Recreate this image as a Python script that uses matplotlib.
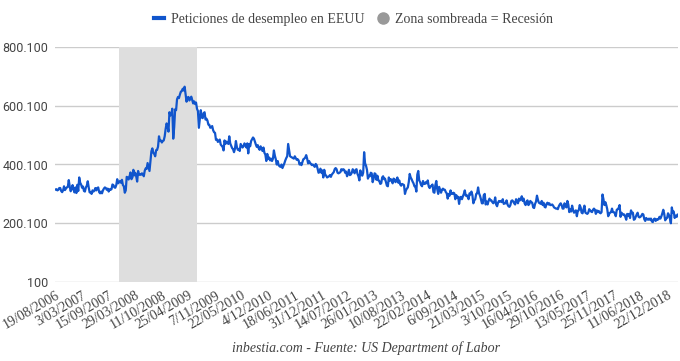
import numpy as np
import matplotlib
matplotlib.use("Agg")
import matplotlib.pyplot as plt
from matplotlib.lines import Line2D

# Peticiones semanales de desempleo (miles), semanas desde 19/08/2006
y2006 = [315, 316, 312, 314, 320, 320, 310, 306, 312, 326, 313, 318, 322, 324, 347, 325, 309, 316, 330, 316]
y2007 = [305, 322, 303, 331, 310, 356, 338, 332, 321, 325, 310, 308, 322, 328, 343, 322, 305,
         306, 300, 312, 308, 311, 320, 312, 320, 322, 306, 302, 308, 302, 312, 318, 322, 320,
         314, 318, 308, 316, 314, 316, 332, 330, 322, 321, 330, 350, 336, 340, 344, 338, 348, 330]
y2008 = [326, 304, 312, 358, 356, 349, 360, 373, 350, 356, 382, 363, 372, 360, 342, 378, 365,
         367, 365, 370, 368, 360, 379, 387, 385, 405, 392, 378, 410, 445, 455, 440, 436, 428, 449,
         450, 461, 496, 480, 482, 475, 480, 482, 496, 521, 540, 531, 512, 578, 567, 570, 590]
y2009 = [488, 527, 588, 585, 622, 630, 626, 638, 648, 650, 658, 652, 665, 640, 614, 628, 630,
         618, 625, 631, 620, 608, 615, 606, 611, 590, 582, 525, 556, 585, 560, 558, 575, 578, 553,
         556, 550, 536, 535, 525, 527, 531, 517, 510, 508, 484, 486, 477, 480, 485, 468, 464]
y2010 = [460, 448, 482, 470, 478, 475, 470, 496, 472, 464, 456, 452, 442, 454, 480, 460, 450,
         452, 446, 470, 464, 458, 462, 472, 466, 458, 472, 438, 470, 462, 480, 486, 492, 488, 478,
         468, 460, 466, 455, 450, 462, 454, 446, 458, 440, 434, 412, 436, 420, 424, 414, 420]
y2011 = [412, 420, 448, 430, 418, 400, 412, 398, 394, 392, 400, 388, 396, 404, 414, 422, 428, 470,
         448, 428, 426, 424, 422, 420, 428, 422, 416, 418, 414, 400, 404, 398, 408, 418, 420,
         424, 432, 420, 404, 412, 406, 402, 398, 400, 396, 392, 402, 398, 386, 372, 374, 386, 372]
y2012 = [380, 356, 382, 366, 362, 356, 358, 360, 364, 358, 366, 370, 374, 384, 388, 384, 372,
         370, 372, 374, 384, 380, 384, 382, 372, 376, 360, 368, 382, 364, 366, 372, 384, 378,
         370, 382, 384, 368, 360, 346, 380, 370, 362, 372, 442, 404, 396, 382, 352, 362, 360, 372]
y2013 = [370, 340, 352, 370, 368, 348, 362, 346, 344, 334, 336, 356, 360, 350, 352, 340, 328,
         326, 356, 344, 350, 348, 336, 352, 350, 340, 344, 356, 338, 346, 332, 328, 334, 332, 330,
         300, 312, 318, 322, 340, 368, 356, 350, 342, 336, 326, 324, 308, 366, 378, 346, 340]
y2014 = [330, 326, 344, 334, 334, 340, 336, 346, 326, 320, 326, 328, 332, 306, 304, 330, 344,
         316, 300, 324, 314, 304, 314, 318, 314, 314, 306, 302, 284, 300, 294, 312, 300, 300, 304,
         302, 282, 296, 288, 290, 266, 288, 290, 282, 292, 300, 312, 294, 296, 290, 282, 302]
y2015 = [298, 308, 296, 268, 278, 282, 300, 302, 322, 302, 294, 282, 268, 268, 296, 300, 264,
         274, 264, 276, 284, 278, 278, 272, 268, 272, 288, 264, 258, 270, 276, 274, 276, 272, 282,
         266, 268, 268, 278, 264, 258, 256, 262, 276, 278, 274, 268, 264, 282, 274, 268, 284]
y2016 = [278, 282, 292, 276, 284, 268, 262, 272, 278, 262, 266, 276, 272, 270, 254, 252, 266, 274,
         294, 280, 270, 268, 266, 276, 262, 270, 256, 254, 266, 270, 264, 268, 262, 262, 264,
         260, 254, 252, 250, 250, 248, 258, 264, 268, 262, 250, 250, 268, 260, 254, 276, 264, 238]
y2017 = [248, 240, 260, 246, 236, 240, 244, 224, 242, 244, 262, 254, 236, 234, 248, 260, 236,
         234, 232, 236, 248, 244, 240, 238, 246, 250, 246, 232, 244, 238, 242, 236, 234, 238,
         298, 282, 262, 272, 262, 248, 224, 232, 236, 238, 250, 238, 238, 234, 224, 246, 248, 252]
y2018 = [262, 222, 236, 232, 228, 230, 222, 212, 232, 226, 232, 218, 244, 234, 236, 212, 214,
         222, 230, 236, 222, 220, 222, 226, 232, 230, 214, 208, 218, 214, 212, 216, 212, 216,
         206, 204, 214, 216, 208, 214, 212, 214, 222, 216, 224, 234, 246, 232, 210, 216, 218, 234]
y2019 = [228, 216, 200, 254, 236, 240, 218, 226, 222, 230, 224]

claims = np.array(y2006 + y2007 + y2008 + y2009 + y2010 + y2011 + y2012 + y2013
                  + y2014 + y2015 + y2016 + y2017 + y2018 + y2019) * 1000

# etiquetas del eje X (una cada 28 semanas)
tick_labels = ["19/08/2006", "3/03/2007", "15/09/2007", "29/03/2008", "11/10/2008",
               "25/04/2009", "7/11/2009", "22/05/2010", "4/12/2010", "18/06/2011",
               "31/12/2011", "14/07/2012", "26/01/2013", "10/08/2013", "22/02/2014",
               "6/09/2014", "21/03/2015", "3/10/2015", "16/04/2016", "29/10/2016",
               "13/05/2017", "25/11/2017", "11/06/2018", "22/12/2018"]
tick_step = 28

# recesion: semana del 1/12/2007 a la del 27/06/2009
rec_start, rec_end = 66.5, 149
y_ticks = [100, 200100, 400100, 600100, 800100]

blue = "#1155cc"
txt = "#444444"

fig = plt.figure(figsize=(6.8, 3.61), dpi=100)
ax = fig.add_axes([55 / 680, 1 - 282 / 361, 623 / 680, 235 / 361])

x = np.arange(len(claims))
ax.axvspan(rec_start, rec_end, color="#dedede", lw=0, zorder=1)
ax.plot(x, claims, color=blue, lw=1.6, zorder=3)

ax.set_ylim(100, 800100)
ax.set_xlim(-0.5, len(claims) - 1.5)
ax.set_yticks(y_ticks)
ax.set_yticklabels([f"{v:,}".replace(",", ".") for v in y_ticks],
                   family="Roboto", fontsize=9, color=txt)
ax.yaxis.grid(True, color="#cccccc", lw=1, zorder=0)
ax.set_axisbelow(True)

ticks = np.arange(len(tick_labels)) * tick_step
ax.set_xticks(ticks)
ax.set_xticklabels(tick_labels, rotation=30, ha="right", rotation_mode="anchor",
                   family="Liberation Serif", fontsize=10, color=txt)
ax.tick_params(length=0, pad=5)
for s in ax.spines.values():
    s.set_visible(False)

handles = [Line2D([], [], color=blue, lw=3),
           Line2D([], [], marker="o", color="#999999", lw=0, markersize=8)]
fig.legend(handles, ["Peticiones de desempleo en EEUU", "Zona sombreada = Recesión"],
           loc="center", bbox_to_anchor=(0.52, 0.945), ncol=2, frameon=False,
           prop={"family": "Liberation Serif", "size": 10}, labelcolor=txt,
           handlelength=0.7, handletextpad=0.5, columnspacing=1.0)

fig.text(0.538, 0.035, "inbestia.com - Fuente: US Department of Labor",
         ha="center", va="center", family="Liberation Serif", style="italic",
         fontsize=10, color=txt)

fig.savefig("out.png", dpi=100)
